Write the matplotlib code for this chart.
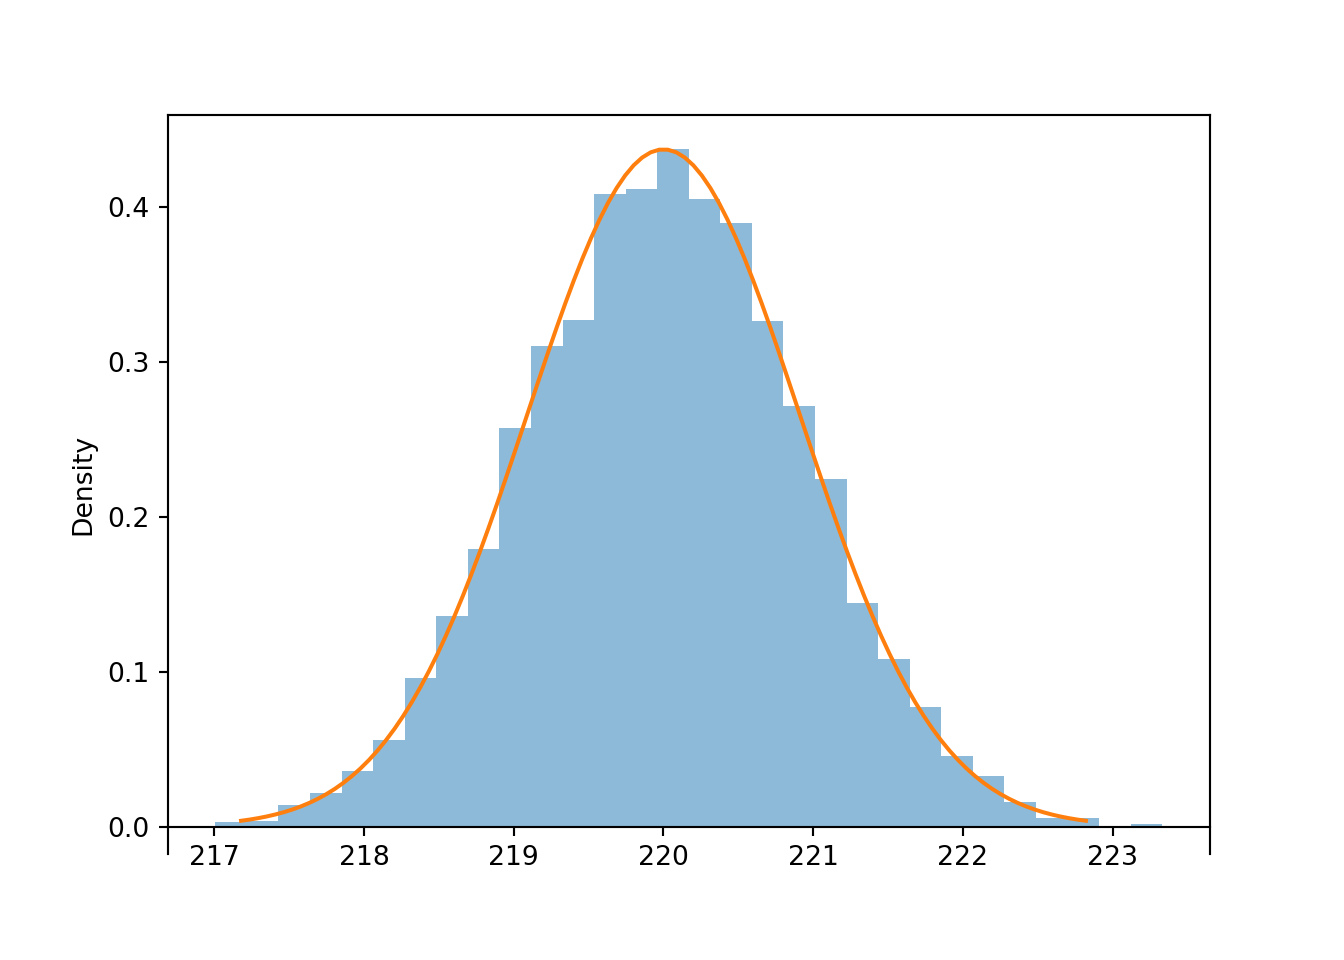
import numpy as np
import matplotlib
matplotlib.use("Agg")
import matplotlib.pyplot as plt

# histogram bins (30 equal bins) and density heights
bin_start = 217.007
bin_width = 0.2108
densities = [0.0030, 0.0034, 0.0142, 0.0213, 0.0355, 0.0560, 0.0960, 0.1360,
             0.1790, 0.2570, 0.3100, 0.3270, 0.4080, 0.4116, 0.4374, 0.4050,
             0.3897, 0.3260, 0.2716, 0.2240, 0.1445, 0.1080, 0.0768, 0.0458,
             0.0323, 0.0161, 0.0052, 0.0052, 0.0000, 0.0013]

# fitted normal curve parameters
mu = 220.0
sigma = 0.913

edges = bin_start + bin_width * np.arange(len(densities) + 1)

fig, ax = plt.subplots(figsize=(7, 5), dpi=192)
ax.hist(edges[:-1], bins=edges, weights=densities, alpha=0.5)

# curve from the 0.1% to the 99.9% quantile
x = np.linspace(mu - 3.0902 * sigma, mu + 3.0902 * sigma, 100)
pdf = np.exp(-0.5 * ((x - mu) / sigma) ** 2) / (sigma * np.sqrt(2 * np.pi))
ax.plot(x, pdf)

ax.set_ylim(-0.018, 0.459)
ax.spines['bottom'].set_position('zero')
ax.set_ylabel('Density')

fig.savefig('out.png')
